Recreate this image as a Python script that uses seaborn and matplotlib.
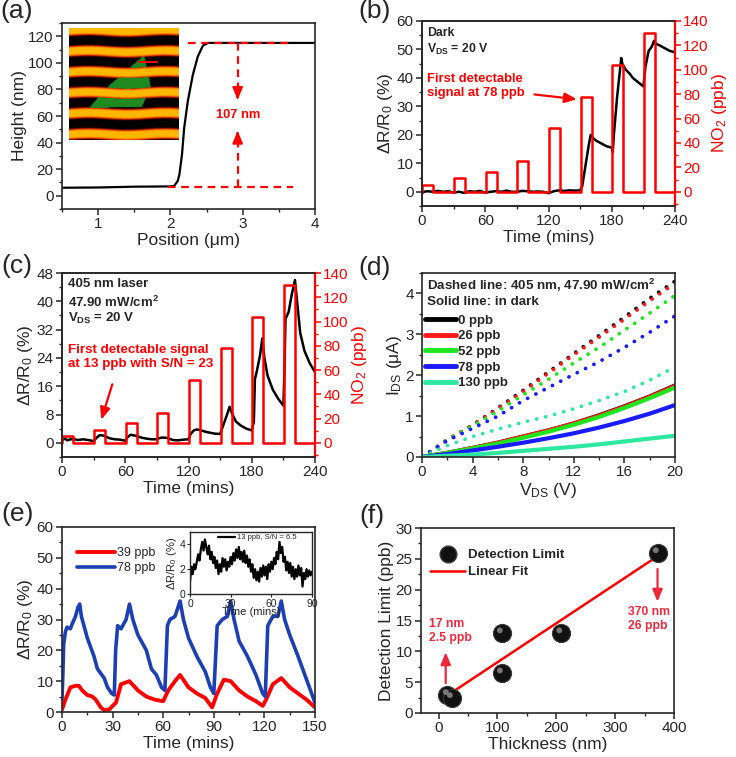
import numpy as np
import matplotlib
matplotlib.use("Agg")
import matplotlib.pyplot as plt
import seaborn as sns
from matplotlib.colors import LinearSegmentedColormap, to_rgb
from matplotlib.path import Path
from matplotlib.ticker import MultipleLocator
from matplotlib.lines import Line2D

# ---------------- data ----------------
# (a) AFM height profile
pos_um = [0.5, 1.0, 1.5, 2.0, 2.05, 2.1, 2.124, 2.16, 2.19, 2.24, 2.31, 2.38, 2.45, 2.52, 3.0, 3.5, 4.0]
height_nm = [6.0, 6.2, 6.8, 7.0, 7.3, 11, 16, 31, 51, 71, 91, 105, 113, 115, 115, 115, 115]
step_low, step_high = 6.5, 115
step_label = "107 nm"

# NO2 pulses (b), (c)
pulse_start = [0, 30.5, 60.5, 90.5, 120.5, 150.5, 180.5, 210.5]
pulse_len = 10.5
pulse_ppb = [5.5, 11, 16.5, 25, 52, 78, 104, 130]

# (b) dark response
tb = [0, 2, 5, 10, 15, 20, 25, 30, 35, 40, 45, 50, 55, 60, 65, 70, 75, 80, 85, 90, 95, 100, 105, 110, 115,
      120, 125, 130, 135, 140, 145, 150, 152, 155, 158, 160, 162, 165, 170, 175, 180, 181, 182, 185, 187,
      189, 190, 193, 197, 200, 205, 210, 212, 215, 218, 220, 222, 225, 230, 235, 240]
rb = [-0.5, 0, 0.2, 0, 0.3, 0, 0.2, -0.3, 0, -0.4, 0.2, 0, 0.3, -0.3, 0, 0.2, 0, 0.4, 0, 0, 0.3, 0.2, 0, 0.1, 0,
      -0.5, 0.2, 0.5, 0.3, 0.5, 0.4, 0.5, 2, 9, 16, 20, 19, 18, 17, 16, 15.5, 14, 20, 33, 40,
      47, 45, 43, 41.5, 40, 38.5, 37, 44, 49.5, 51, 53, 52, 51.5, 50.5, 49.5, 49]

# (c) 405 nm illuminated response
tc = [0, 3, 5, 8, 12, 15, 20, 25, 30, 33, 36, 40, 45, 50, 55, 60, 62, 65, 70, 75, 80, 85, 90, 92, 95, 100,
      105, 110, 115, 120, 122, 125, 128, 132, 138, 145, 150, 153, 156, 159, 161, 165, 170, 175, 180, 182,
      183, 185, 188, 190, 192, 195, 200, 205, 210, 211, 212, 215, 218, 221, 223, 226, 230, 235, 240]
rc = [0.8, 1.2, 0.7, 1.0, 1.0, 0.8, 1.0, 0.8, 0.5, 1.5, 2.2, 2.0, 1.3, 1.0, 0.9, 0.6, 1.5, 2.3, 2.0, 1.5, 1.2,
      1.0, 1.0, 1.3, 1.5, 1.4, 0.8, 0.7, 0.9, 1.0, 2.5, 3.5, 3.8, 3.5, 3.0, 2.6, 2.5, 5, 7.5, 10.2, 8.5,
      6, 4.8, 4.0, 3.5, 6, 18, 20.5, 25, 29.5, 24, 19, 15, 12.5, 10.5, 20, 35, 37, 42, 46, 40, 31, 26, 22.5, 20]

# (d) I-V curves
vds = [0, 2, 4, 6, 8, 10, 12, 14, 16, 18, 20]
iv_labels = ["0 ppb", "26 ppb", "52 ppb", "78 ppb", "130 ppb"]
iv_colors = ["#000000", "#ff1a1a", "#1ee61e", "#1a1aff", "#2ee8a0"]
iv_light = [
    [0, 0.42, 0.78, 1.20, 1.63, 2.08, 2.53, 2.97, 3.42, 3.88, 4.30],
    [0, 0.42, 0.78, 1.18, 1.60, 2.05, 2.50, 2.93, 3.37, 3.82, 4.25],
    [0, 0.42, 0.76, 1.12, 1.52, 1.90, 2.30, 2.68, 3.10, 3.52, 3.95],
    [0, 0.40, 0.70, 1.00, 1.38, 1.70, 2.02, 2.33, 2.68, 3.05, 3.45],
    [0, 0.28, 0.50, 0.68, 0.85, 1.00, 1.18, 1.38, 1.60, 1.88, 2.20],
]
iv_dark = [
    [0, 0.10, 0.22, 0.35, 0.50, 0.65, 0.82, 1.02, 1.24, 1.48, 1.75],
    [0, 0.10, 0.22, 0.35, 0.50, 0.65, 0.82, 1.01, 1.23, 1.47, 1.74],
    [0, 0.10, 0.21, 0.33, 0.47, 0.62, 0.79, 0.98, 1.20, 1.44, 1.70],
    [0, 0.07, 0.16, 0.25, 0.35, 0.46, 0.58, 0.72, 0.88, 1.06, 1.27],
    [0, 0.03, 0.06, 0.10, 0.15, 0.20, 0.25, 0.31, 0.38, 0.45, 0.52],
]

# (e) repeated cycles
te_blue = [0, 0.5, 1, 2, 3, 5, 6, 8, 9.5, 10.5, 11.5, 13, 15, 17, 19, 21, 23, 25, 27, 29.5, 31,
           31.8, 33, 35, 38, 40, 42, 45, 50, 53, 56, 59, 61,
           62.5, 64, 67, 70, 72, 75, 80, 85, 88, 90,
           92, 95, 98, 100, 102, 105, 110, 115, 119, 120.5,
           122, 125, 128, 130, 132, 135, 140, 144, 148, 150]
re_blue = [4, 12, 22, 26, 27.5, 27, 28.5, 31, 34, 35, 31, 28, 24, 21, 18, 14, 12.5, 11, 8, 6, 5.5,
           20, 28, 27, 30, 35, 30, 25, 20, 14, 12, 8, 7,
           28, 30, 31, 36, 30, 24, 18, 13, 8, 6,
           28, 30, 31, 36, 30, 23, 18, 12, 6, 5,
           28, 31, 31, 36, 30, 25, 18, 12, 6, 3]
te_red = [0, 2, 5, 8, 10, 12, 15, 18, 20, 23, 25, 28, 30, 32, 35, 40, 45, 50, 55, 60, 63, 67, 70, 75, 80,
          85, 89, 92, 96, 100, 105, 110, 115, 119, 121, 125, 130, 135, 140, 145, 150]
re_red = [0.8, 4, 8, 8.5, 8.5, 7, 5.5, 5, 4, 1.5, 0.6, 0.8, 2, 3, 9, 10, 7, 5, 4, 3.5, 7, 10, 12, 8, 6,
          4.5, 1.5, 6, 10.5, 10, 7, 5, 3.5, 2, 4, 9, 11, 8, 6, 4, 1.5]

# (e) inset, 13 ppb
t_inset = list(range(0, 91))
r_inset = [1.0, 2.2, 1.6, 2.4, 2.0, 2.6, 3.2, 2.7, 3.6, 4.2, 3.5, 4.4, 3.8, 3.2, 3.9, 2.8, 3.4, 2.5, 3.0, 2.1,
           2.7, 1.6, 2.4, 1.8, 2.9, 2.2, 2.8, 1.9, 2.6, 2.2, 3.0, 2.4, 3.3, 2.7, 3.6, 2.9, 3.8, 2.8, 3.4, 2.6,
           3.5, 2.5, 3.1, 2.2, 2.8, 1.8, 2.4, 1.3, 2.0, 1.1, 1.8, 1.0, 2.1, 1.4, 2.3, 1.5, 2.2, 1.2, 2.4, 1.8,
           2.6, 2.0, 2.9, 2.4, 3.4, 2.8, 4.2, 3.3, 3.8, 2.6, 3.0, 1.9, 2.6, 1.7, 2.5, 1.4, 2.2, 1.2, 2.0, 1.4,
           2.3, 1.5, 2.1, 0.6, 1.7, 1.2, 2.0, 1.4, 1.9, 1.5, 1.8]

# (f) detection limit vs thickness
thick_nm = [15, 22, 107, 107, 208, 372]
det_lim = [3.0, 2.5, 13, 6.5, 13, 26]

# ---------------- style ----------------
sns.set_theme(style="ticks")
plt.rcParams["font.family"] = ["Liberation Sans", "DejaVu Sans"]
plt.rcParams["mathtext.fontset"] = "custom"
plt.rcParams["mathtext.rm"] = "Liberation Sans"
plt.rcParams["mathtext.it"] = "Liberation Sans:italic"
plt.rcParams["mathtext.bf"] = "Liberation Sans:bold"
plt.rcParams["axes.linewidth"] = 1.2
plt.rcParams["xtick.major.width"] = 1.1
plt.rcParams["ytick.major.width"] = 1.1
plt.rcParams["xtick.minor.width"] = 1.0
plt.rcParams["ytick.minor.width"] = 1.0
plt.rcParams["xtick.major.size"] = 4
plt.rcParams["ytick.major.size"] = 4
plt.rcParams["xtick.minor.size"] = 2.5
plt.rcParams["ytick.minor.size"] = 2.5
plt.rcParams["xtick.labelsize"] = 11
plt.rcParams["ytick.labelsize"] = 11
plt.rcParams["axes.labelsize"] = 12.5
plt.rcParams["xtick.major.pad"] = 2
plt.rcParams["ytick.major.pad"] = 2
plt.rcParams["axes.labelpad"] = 1
plt.rcParams["lines.scale_dashes"] = False

RED = "#ff0000"
W, H = 736, 757
fig = plt.figure(figsize=(W / 100, H / 100), dpi=100)


def add_ax(l, t, r, b):
    return fig.add_axes([l / W, 1 - b / H, (r - l) / W, (b - t) / H])


def minors(ax, xm, ym):
    ax.xaxis.set_minor_locator(MultipleLocator(xm))
    ax.yaxis.set_minor_locator(MultipleLocator(ym))


def pulse_xy():
    xs, ys = [0], [0]
    for s, v in zip(pulse_start, pulse_ppb):
        xs += [s, s, s + pulse_len, s + pulse_len]
        ys += [0, v, v, 0]
    xs.append(240)
    ys.append(0)
    return xs, ys


ARW = dict(arrowstyle="-|>,head_width=0.25,head_length=0.6", lw=1.6)
DASH = (0, (5.5, 4))

# ---------------- (a) ----------------
axa = add_ax(62, 23, 315, 209)
sns.lineplot(x=pos_um, y=height_nm, ax=axa, color="black", lw=1.6, sort=False, estimator=None)
axa.set_xlim(0.5, 4)
axa.set_ylim(-10, 130)
axa.xaxis.set_major_locator(MultipleLocator(1))
axa.yaxis.set_major_locator(MultipleLocator(20))
minors(axa, 0.5, 10)
axa.set_xlabel("Position (μm)")
axa.set_ylabel("Height (nm)")
xv = 2.93
axa.plot([2.24, 3.69], [step_high, step_high], ls=DASH, color=RED, lw=1.6)
axa.plot([1.96, 3.69], [step_low, step_low], ls=DASH, color=RED, lw=1.6)
axa.plot([xv, xv], [step_high, 77], ls=DASH, color=RED, lw=1.6)
axa.plot([xv, xv], [step_low, 44], ls=DASH, color=RED, lw=1.6)
axa.annotate("", xy=(xv, 70), xytext=(xv, 78), arrowprops=dict(color=RED, **ARW))
axa.annotate("", xy=(xv, 51), xytext=(xv, 43), arrowprops=dict(color=RED, **ARW))
axa.text(xv, 60.5, step_label, color=RED, fontsize=9.3, fontweight="bold", ha="center", va="center")

# inset optical image (decorative)
axi = add_ax(69, 28, 179, 140)
n = 160
yy, xx = np.mgrid[0:n, 0:n] / n
band = 0.5 + 0.5 * np.cos(2 * np.pi * (yy * 5.4 - 0.11) + 0.25 * np.sin(xx * 9))
band = np.clip((band - 0.25) * 1.7, 0, 1)
cmap = LinearSegmentedColormap.from_list("afm", ["#000000", "#2a0000", "#c81a00", "#ff7a00", "#ffb800"])
rgb = cmap(band)[..., :3]
poly = Path([(0.68, 0.24), (0.74, 0.52), (0.66, 0.70), (0.18, 0.71), (0.35, 0.52), (0.55, 0.35)])
inside = poly.contains_points(np.c_[xx.ravel(), yy.ravel()]).reshape(n, n)
green = np.array(to_rgb("#1f8a1f"))
mask = inside & (band < 0.45)
rgb[mask] = green
axi.imshow(rgb, extent=(0, 1, 1, 0), aspect="auto", interpolation="bilinear")
axi.plot([0.64, 0.80], [0.30, 0.30], color=RED, lw=1.5)
axi.set_xlim(0, 1)
axi.set_ylim(1, 0)
axi.axis("off")

# ---------------- (b) ----------------
axb = add_ax(422, 21, 675, 206)
sns.lineplot(x=tb, y=rb, ax=axb, color="black", lw=1.8, sort=False, estimator=None)
axb.set_xlim(0, 240)
axb.set_ylim(-5, 60)
axb.xaxis.set_major_locator(MultipleLocator(60))
axb.yaxis.set_major_locator(MultipleLocator(10))
minors(axb, 30, 5)
axb.set_xlabel("Time (mins)")
axb.set_ylabel("ΔR/R$_0$ (%)")
axb2 = axb.twinx()
px, py = pulse_xy()
sns.lineplot(x=px, y=py, ax=axb2, color=RED, lw=1.8, sort=False, estimator=None)
axb2.set_ylim(-140 * 5 / 60, 140)
axb2.yaxis.set_major_locator(MultipleLocator(20))
axb2.yaxis.set_minor_locator(MultipleLocator(10))
axb2.set_ylabel("NO$_2$ (ppb)", color=RED)
axb2.tick_params(axis="y", colors=RED, which="both")
axb2.spines["right"].set_color(RED)
axb2.spines["right"].set_linewidth(1.6)
axb.text(4.5, 58, "Dark", fontsize=8.8, fontweight="bold", va="top")
axb.text(4.5, 52.5, "V$_{\\mathbf{DS}}$ = 20 V", fontsize=8.8, fontweight="bold", va="top")
axb.text(4.5, 41.8, "First detectable\nsignal at 78 ppb", color=RED, fontsize=9.4,
         fontweight="bold", va="top", linespacing=1.2)
axb.annotate("", xy=(149.5, 32.4), xytext=(104, 34.3), arrowprops=dict(color=RED, **ARW))

# ---------------- (c) ----------------
axc = add_ax(62, 273, 315, 457)
sns.lineplot(x=tc, y=rc, ax=axc, color="black", lw=1.8, sort=False, estimator=None)
axc.set_xlim(0, 240)
axc.set_ylim(-4, 48)
axc.xaxis.set_major_locator(MultipleLocator(60))
axc.yaxis.set_major_locator(MultipleLocator(8))
minors(axc, 30, 4)
axc.set_xlabel("Time (mins)")
axc.set_ylabel("ΔR/R$_0$ (%)")
axc2 = axc.twinx()
sns.lineplot(x=px, y=py, ax=axc2, color=RED, lw=1.8, sort=False, estimator=None)
axc2.set_ylim(-140 * 4 / 48, 140)
axc2.yaxis.set_major_locator(MultipleLocator(20))
axc2.yaxis.set_minor_locator(MultipleLocator(10))
axc2.set_ylabel("NO$_2$ (ppb)", color=RED)
axc2.tick_params(axis="y", colors=RED, which="both")
axc2.spines["right"].set_color(RED)
axc2.spines["right"].set_linewidth(1.6)
axc.text(5.5, 46.6, "405 nm laser", fontsize=9.5, fontweight="bold", va="top")
axc.text(5.5, 41.9, "47.90 mW/cm$^{\\mathbf{2}}$", fontsize=9.5, fontweight="bold", va="top")
axc.text(5.5, 37.2, "V$_{\\mathbf{DS}}$ = 20 V", fontsize=9.5, fontweight="bold", va="top")
axc.text(5.5, 27.8, "First detectable signal\nat 13 ppb with S/N = 23", color=RED, fontsize=9.6,
         fontweight="bold", va="top", linespacing=1.2)
axc.annotate("", xy=(36.5, 5.8), xytext=(48.5, 17.3), arrowprops=dict(color=RED, **ARW))

# ---------------- (d) ----------------
axd = add_ax(422, 273, 675, 457)
for vals, col in zip(iv_light, iv_colors):
    axd.plot(vds, vals, color=col, lw=2.7, ls=(0, (0.1, 6.6)), dash_capstyle="round")
handles = []
for vals, col, lab in zip(iv_dark, iv_colors, iv_labels):
    sns.lineplot(x=vds, y=vals, ax=axd, color=col, lw=3, sort=False, estimator=None)
    handles.append(Line2D([0], [0], color=col, lw=3.5, label=lab))
axd.set_xlim(0, 20)
axd.set_ylim(0, 4.5)
axd.xaxis.set_major_locator(MultipleLocator(4))
axd.yaxis.set_major_locator(MultipleLocator(1))
minors(axd, 2, 0.5)
axd.set_xlabel("V$_{\\mathrm{DS}}$ (V)")
axd.set_ylabel("I$_{\\mathrm{DS}}$ (μA)")
axd.text(0.02, 0.978, "Dashed line: 405 nm, 47.90 mW/cm$^{\\mathbf{2}}$", transform=axd.transAxes,
         fontsize=9.6, fontweight="bold", va="top")
axd.text(0.02, 0.875, "Solid line: in dark", transform=axd.transAxes,
         fontsize=9.6, fontweight="bold", va="top")
axd.legend(handles=handles, loc="upper left", bbox_to_anchor=(0.0, 0.79), frameon=False,
           prop=dict(weight="bold", size=9.5), handlelength=2.4, handletextpad=0.1,
           labelspacing=0.26, borderpad=0.1, borderaxespad=0.1)

# ---------------- (e) ----------------
axe = add_ax(62, 527, 315, 712)
sns.lineplot(x=te_red, y=re_red, ax=axe, color=RED, lw=2.8, sort=False, estimator=None, label="39 ppb")
sns.lineplot(x=te_blue, y=re_blue, ax=axe, color="#1c3fb4", lw=2.6, sort=False, estimator=None,
             label="78 ppb")
axe.set_xlim(0, 150)
axe.set_ylim(0, 60)
axe.xaxis.set_major_locator(MultipleLocator(30))
axe.yaxis.set_major_locator(MultipleLocator(10))
minors(axe, 15, 5)
axe.set_xlabel("Time (mins)")
axe.set_ylabel("ΔR/R$_0$ (%)")
axe.legend(loc="upper left", bbox_to_anchor=(0.03, 0.93), frameon=False, fontsize=9,
           handlelength=3.0, handletextpad=0.2, labelspacing=0.2, borderpad=0.1)

axe_in = add_ax(190, 532, 312, 594)
sns.lineplot(x=t_inset, y=r_inset, ax=axe_in, color="black", lw=1.6, sort=False, estimator=None,
             label="13 ppb, S/N = 6.5")
axe_in.set_xlim(0, 90)
axe_in.set_ylim(0, 5)
axe_in.xaxis.set_major_locator(MultipleLocator(30))
axe_in.yaxis.set_major_locator(MultipleLocator(2))
axe_in.tick_params(labelsize=7.5, length=2.5, width=0.8, pad=1)
axe_in.tick_params(which="minor", length=0)
for s in axe_in.spines.values():
    s.set_linewidth(1.0)
axe_in.set_xlabel("Time (mins)", fontsize=8, labelpad=-1)
axe_in.set_ylabel("ΔR/R$_0$ (%)", fontsize=8, labelpad=0)
axe_in.legend(loc="upper center", bbox_to_anchor=(0.55, 1.04), frameon=False, fontsize=5.5,
              handlelength=2.2, handletextpad=0.3, borderpad=0.1)

# ---------------- (f) ----------------
axf = add_ax(421, 528, 674, 713)
sns.regplot(x=np.array(thick_nm), y=np.array(det_lim), ax=axf, scatter=False, ci=None,
            line_kws=dict(color=RED, lw=1.8))
sns.scatterplot(x=thick_nm, y=det_lim, ax=axf, s=170, color="#111111", edgecolor="#3a3a3a",
                linewidth=0.8, zorder=5, legend=False)
axf.scatter(np.array(thick_nm) - 3, np.array(det_lim) + 0.4, s=18, color="#777777", zorder=6,
            edgecolor="none")
axf.set_xlim(-30, 400)
axf.set_ylim(0, 30)
axf.xaxis.set_major_locator(MultipleLocator(100))
axf.yaxis.set_major_locator(MultipleLocator(5))
minors(axf, 50, 2.5)
axf.set_xlabel("Thickness (nm)")
axf.set_ylabel("Detection Limit (ppb)")
fh = [Line2D([0], [0], ls="none", marker="o", markersize=12, markerfacecolor="#111111",
             markeredgecolor="#3a3a3a", label="Detection Limit"),
      Line2D([0], [0], color=RED, lw=1.8, label="Linear Fit")]
axf.legend(handles=fh, loc="upper left", bbox_to_anchor=(0.005, 0.93),
           frameon=False, prop=dict(weight="bold", size=9.6), handlelength=2.6, handletextpad=0.2,
           labelspacing=0.35, borderpad=0.1)
RED2 = "#f0283c"
axf.text(-17, 15.4, "17 nm\n2.5 ppb", color=RED2, fontsize=8.7, fontweight="bold", va="top",
         linespacing=1.25)
axf.text(322, 17.4, "370 nm\n26 ppb", color=RED2, fontsize=8.7, fontweight="bold", va="top",
         linespacing=1.25)
axf.annotate("", xy=(12, 10.3), xytext=(12, 4.4), arrowprops=dict(color=RED2, **ARW))
axf.annotate("", xy=(372, 17.6), xytext=(372, 23.8), arrowprops=dict(color=RED2, **ARW))

# panel labels
for lab, x, y in [("(a)", 0, -1), ("(b)", 358, -1), ("(c)", 1, 254), ("(d)", 358, 256),
                  ("(e)", 1, 502), ("(f)", 359, 504)]:
    fig.text(x / W, 1 - y / H, lab, fontsize=19, va="top", ha="left")

fig.savefig("out.png", dpi=100)
